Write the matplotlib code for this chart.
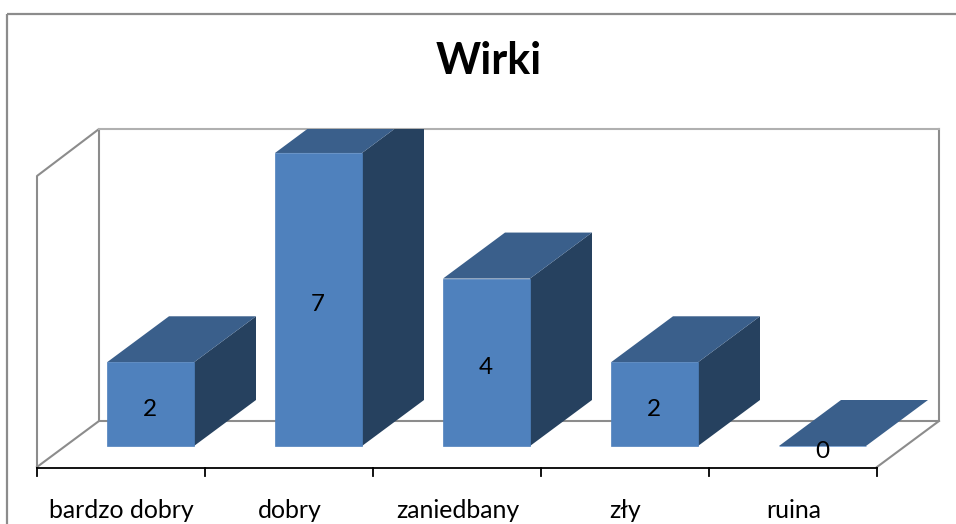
import matplotlib
matplotlib.use('Agg')
import matplotlib.pyplot as plt
from matplotlib.patches import Polygon, Rectangle

categories = ['bardzo dobry', 'dobry', 'zaniedbany', 'zły', 'ruina']
values = [2, 7, 4, 2, 0]
title = 'Wirki'

W, H = 956, 524
GREY = '#8c8c8c'
FRONT = '#4f81bd'
TOP = '#3a5f8b'
SIDE = '#26415f'

# chart geometry in pixels
x0, x_step = 37, 168
y_base, y_unit = 446, 41.86
bar_left, bar_w = 70, 87
dx, dy = 62, -46
floor_y = 467
wall_top = 129

plt.rcParams['font.family'] = ['Lato', 'DejaVu Sans']

fig = plt.figure(figsize=(W / 100, H / 100), dpi=100)
ax = fig.add_axes([0, 0, 1, 1])
ax.set_xlim(0, W)
ax.set_ylim(H, 0)
ax.axis('off')

# outer frame, runs off the bottom and right of the picture
ax.plot([7.5, 7.5], [H + 5, 14], color=GREY, lw=1.6, solid_capstyle='butt')
ax.plot([7.5, W + 5], [14, 14], color=GREY, lw=1.6, solid_capstyle='butt')

ax.text(488.5, 61, title, fontsize=31, fontweight='bold', ha='center', va='center', color='black')

# walls and floor
x_end = x0 + x_step * len(categories)
wall_y = floor_y - 46
ax.plot([x0, x0, x0 + dx, x0 + dx, x_end + dx, x_end + dx], [floor_y, 176, wall_top, wall_y, wall_y, wall_top],
        color=GREY, lw=1.5, zorder=1)
ax.plot([x0 + dx, x_end + dx], [wall_top, wall_top], color='#b0b0b0', lw=1.5, zorder=1)
ax.plot([x0, x0 + dx], [floor_y, wall_y], color=GREY, lw=1.5, zorder=1)
ax.plot([x_end, x_end + dx], [floor_y, wall_y], color=GREY, lw=1.5, zorder=1)

clip = Rectangle((0, wall_top), W, H, transform=ax.transData)

for i, (cat, val) in enumerate(zip(categories, values)):
    left = x0 + x_step * i + bar_left
    right = left + bar_w
    top = y_base - val * y_unit
    faces = [
        ([(right, top), (right + dx, top + dy), (right + dx, y_base + dy), (right, y_base)], SIDE),
        ([(left, top), (left + dx, top + dy), (right + dx, top + dy), (right, top)], TOP),
    ]
    for pts, col in faces:
        p = Polygon(pts, closed=True, facecolor=col, edgecolor='none', zorder=3)
        ax.add_patch(p)
        p.set_clip_path(clip)
    ax.add_patch(Rectangle((left, top), bar_w, y_base - top, facecolor=FRONT, edgecolor=FRONT, lw=0.5, zorder=4))
    ax.text((left + right) / 2 - 0.5, (top + y_base) / 2 + 5.5, str(val), fontsize=17.5, ha='center', va='center',
            color='black', zorder=5)
    ax.text(x0 + x_step * (i + 0.5) + 0.5, 510.5, cat, fontsize=17.9, ha='center', va='center', color='black')

# category axis
ax.plot([x0, x_end], [floor_y + 1, floor_y + 1], color='black', lw=1.3, zorder=2)
for i in range(len(categories) + 1):
    ax.plot([x0 + x_step * i] * 2, [floor_y + 1, floor_y + 9], color='black', lw=1.3, zorder=2)

fig.savefig('out.png', dpi=100)
